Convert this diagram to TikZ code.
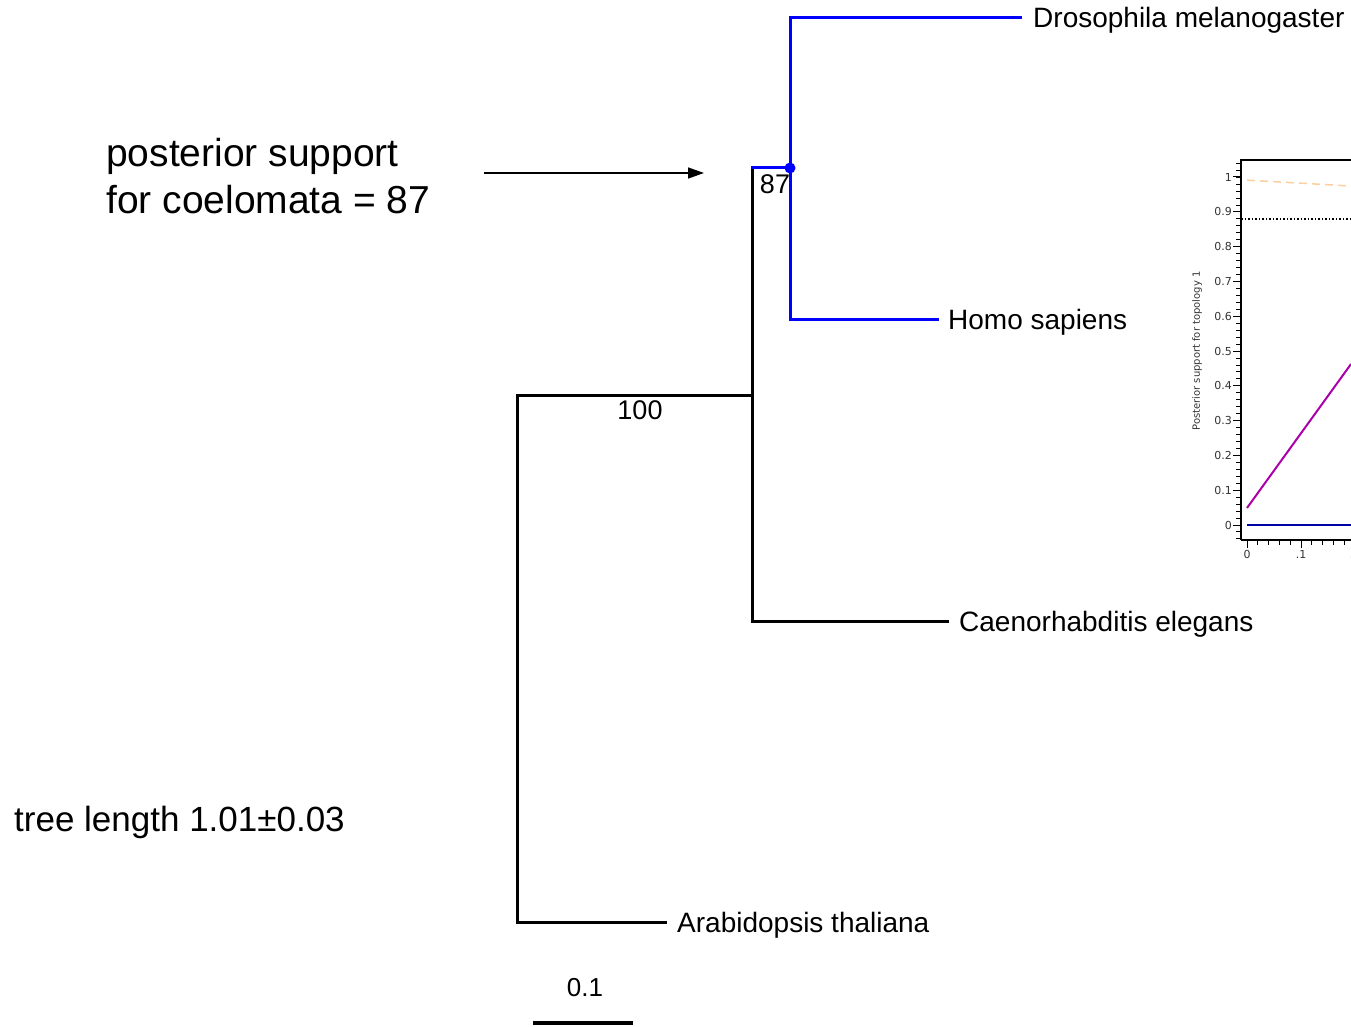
\documentclass[tikz,border=0pt]{standalone}
\usepackage{fontspec}
\setmainfont{Liberation Sans}
\newfontfamily\plotfont{DejaVu Sans}
\usetikzlibrary{arrows.meta,positioning}
\definecolor{peach}{RGB}{252,206,160}
\definecolor{plotmag}{RGB}{170,0,170}
\definecolor{plotnavy}{RGB}{0,0,170}
\begin{document}
\begin{tikzpicture}[
  x=1pt, y=-1pt,
  branch/.style={line width=3pt, line cap=rect},
  bluebranch/.style={branch, blue},
  taxon/.style={anchor=west, inner sep=0pt, font=\fontsize{28}{30}\selectfont, text height=22pt, text depth=2pt},
  support/.style={inner sep=0pt, font=\fontsize{27}{29}\selectfont},
  arr/.style={-{Triangle[length=16pt, width=11pt]}, line width=1.5pt},
  tick/.style={line width=1pt},
  ticklab/.style={inner sep=0pt, font=\plotfont\fontsize{11}{12}\selectfont, text=black!80}
]
\useasboundingbox (0,0) rectangle (1351,1027);
% internal nodes and tips
\coordinate (root) at (517,600);
\coordinate (bil) at (752,395);
\coordinate (coel) at (790,168);
\coordinate (coel stem) at (bil |- coel);
\coordinate (dmel) at (1020,18);
\coordinate (hsap) at (937,319);
\coordinate (cel) at (947,621);
\coordinate (ath) at (665,922);
\node[taxon, right=13pt of dmel] (dmel label) {Drosophila melanogaster};
\node[taxon, right=11pt of hsap] (hsap label) {Homo sapiens};
\node[taxon, right=12pt of cel] (cel label) {Caenorhabditis elegans};
\node[taxon, right=12pt of ath] (ath label) {Arabidopsis thaliana};
% branches
\draw[branch] (bil) -| (root) |- (ath);
\draw[branch] (coel stem) |- (cel);
\draw[bluebranch] (coel stem) -- (coel);
\draw[bluebranch] (dmel) -| (coel) |- (hsap);
\fill[blue] (coel) circle (5.5);
\node[support] (bs coel) at (775,184) {87};
\node[support] (bs bil) at (640,410) {100};
% scale bar
\coordinate (bar left) at (533,1023);
\coordinate (bar right) at (633,1023);
\draw[line width=4pt] (bar left) -- (bar right);
\node[support, font=\fontsize{26}{28}\selectfont] (bar label) at (585,988) {0.1};
% annotations
\node[anchor=west, inner sep=0pt, align=left, font=\fontsize{39}{47}\selectfont] (note) at (106,176) {posterior support\\for coelomata = 87};
\coordinate (arrow tail) at (484,173);
\coordinate (arrow head) at (704,173);
\draw[arr] (arrow tail) -- (arrow head);
\node[anchor=west, inner sep=0pt, font=\fontsize{35}{40}\selectfont] (tree length) at (14,822) {tree length 1.01±0.03};
% inset plot, cut at the right edge
\begin{scope}
\clip (1170,150) rectangle (1351,580);
\begin{scope}[xshift=1247pt, yshift=-525pt, x=540pt, y=348pt]
\draw[line width=2pt] (-0.0111,-0.0431) -- (-0.0111,1.0489) -- (0.25,1.0489);
\draw[line width=2pt] (-0.0111,-0.0431) -- (0.25,-0.0431);
\foreach \v in {-0.04,-0.02,...,1.05} \draw[tick] (-0.0111,\v) -- ++(-5pt,0);
\foreach \v/\lab in {0/0,0.1/0.1,0.2/0.2,0.3/0.3,0.4/0.4,0.5/0.5,0.6/0.6,0.7/0.7,0.8/0.8,0.9/0.9,1/1} {
  \draw[tick] (-0.0111,\v) -- ++(-8pt,0);
  \node[ticklab, anchor=east] at ([xshift=-9pt]-0.0111,\v) {\lab};
}
\foreach \u in {0,0.02,...,0.24} \draw[tick] (\u,-0.0431) -- ++(0,-5pt);
\foreach \u/\lab in {0/0,0.1/.1,0.2/.2} {
  \draw[tick] (\u,-0.0431) -- ++(0,-8pt);
  \node[ticklab, anchor=north] at ([yshift=-10pt]\u,-0.0431) {\lab};
}
\node[ticklab, rotate=90, font=\plotfont\fontsize{10}{12}\selectfont] (ylab) at (-0.0926,0.5) {Posterior support for topology 1};
\draw[peach, line width=1.5pt, dash pattern=on 8pt off 5pt] (0,0.991) -- (0.1926,0.974);
\draw[black, line width=1.5pt, dash pattern=on 1.5pt off 2pt] (-0.0111,0.879) -- (0.25,0.879);
\draw[plotmag, line width=2pt] (0,0.049) -- (0.1926,0.4626);
\draw[plotnavy, line width=2pt] (0,0) -- (0.25,0);
\end{scope}
\end{scope}
\end{tikzpicture}
\end{document}
